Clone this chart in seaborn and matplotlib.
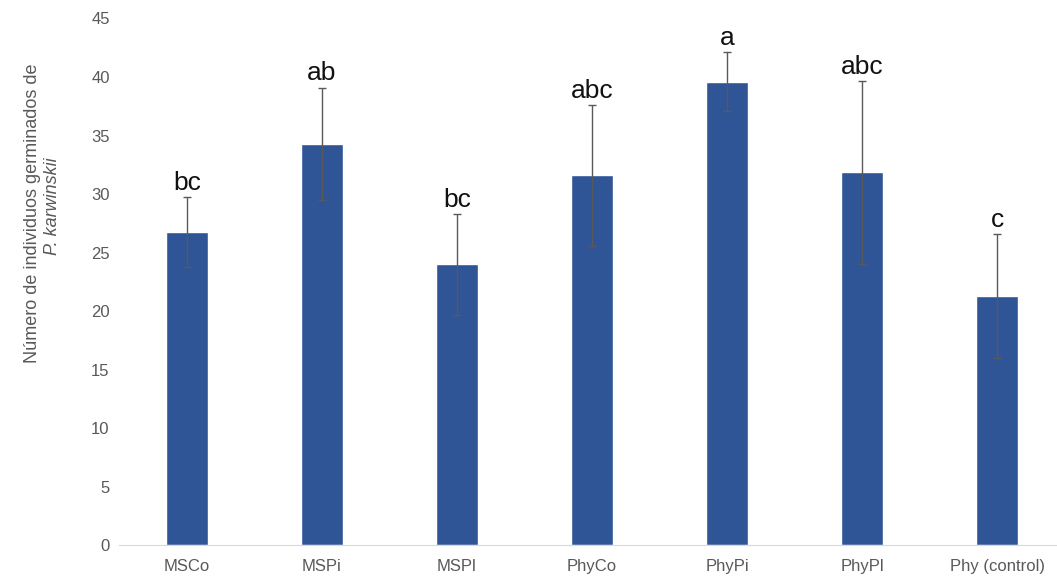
import numpy as np
import pandas as pd
import seaborn as sns
import matplotlib.pyplot as plt

# values
groups = ['MSCo', 'MSPi', 'MSPl', 'PhyCo', 'PhyPi', 'PhyPl', 'Phy (control)']
means = [26.75, 34.3, 24.0, 31.6, 39.6, 31.85, 21.3]
errors = [3.0, 4.8, 4.3, 6.0, 2.5, 7.8, 5.3]
letters = ['bc', 'ab', 'bc', 'abc', 'a', 'abc', 'c']

df = pd.DataFrame({'group': groups, 'mean': means, 'err': errors})

sns.set_style('white')
plt.rcParams['font.family'] = ['Liberation Sans', 'DejaVu Sans']

grey = '#595959'
fig = plt.figure(figsize=(10.57, 5.77), dpi=100)
ax = fig.add_axes([0.113, 0.055, 0.887, 0.913])

sns.barplot(data=df, x='group', y='mean', color='#2F5597', width=0.31,
            saturation=1, ax=ax)
ax.errorbar(np.arange(len(groups)), df['mean'], yerr=df['err'], fmt='none',
            ecolor=grey, elinewidth=1, capsize=3, capthick=1)

for i, (m, e, t) in enumerate(zip(means, errors, letters)):
    ax.text(i, m + e + 0.2, t, ha='center', va='bottom', fontsize=19,
            color='#111111')

ax.set_ylim(0, 45)
ax.set_xlim(-0.5, 6.444)
ax.set_yticks(range(0, 46, 5))
ax.set_xlabel('')
ax.set_ylabel('')
ax.tick_params(axis='both', colors=grey, labelsize=12, length=0)
ax.tick_params(axis='y', pad=7)
ax.tick_params(axis='x', pad=10)
for s in ['top', 'right', 'left']:
    ax.spines[s].set_visible(False)
ax.spines['bottom'].set_color('#d9d9d9')

fig.text(0.031, 0.63, 'Número de individuos germinados de', rotation=90,
         ha='center', va='center', fontsize=13, color=grey)
fig.text(0.05, 0.643, 'P. karwinskii', rotation=90, style='italic',
         ha='center', va='center', fontsize=13, color=grey)

fig.savefig('out.png', dpi=100)
